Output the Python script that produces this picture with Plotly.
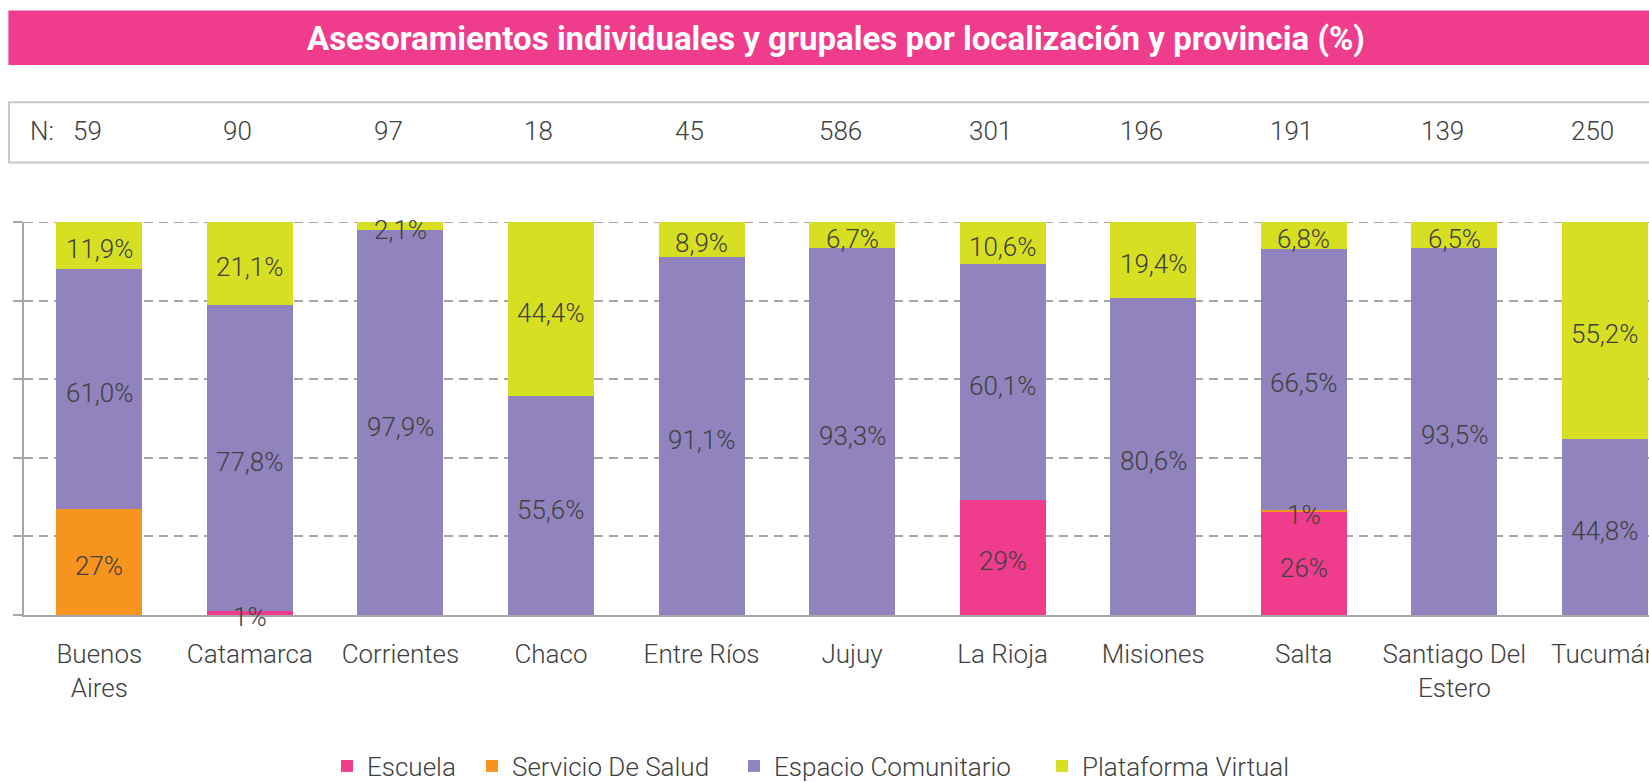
import plotly.graph_objects as go

# ---------------- data ----------------
provinces = ["Buenos Aires", "Catamarca", "Corrientes", "Chaco", "Entre Ríos", "Jujuy",
             "La Rioja", "Misiones", "Salta", "Santiago Del Estero", "Tucumán"]
tick_labels = ["Buenos<br>Aires", "Catamarca", "Corrientes", "Chaco", "Entre Ríos", "Jujuy",
               "La Rioja", "Misiones", "Salta", "Santiago Del<br>Estero", "Tucumán"]
n_values = [59, 90, 97, 18, 45, 586, 301, 196, 191, 139, 250]

escuela = [0, 1.1, 0, 0, 0, 0, 29.3, 0, 26.1, 0, 0]
servicio_salud = [27.1, 0, 0, 0, 0, 0, 0, 0, 0.6, 0, 0]
espacio_comunitario = [61.0, 77.8, 97.9, 55.6, 91.1, 93.3, 60.1, 80.6, 66.5, 93.5, 44.8]
plataforma_virtual = [11.9, 21.1, 2.1, 44.4, 8.9, 6.7, 10.6, 19.4, 6.8, 6.5, 55.2]

title_text = "Asesoramientos individuales y grupales por localización y provincia (%)"

# ---------------- style ----------------
FONT = "Roboto"
FW = 300
FS = 26
TXT = "#404040"
GRID = "#a6a6a6"
C_ESC = "#EF3C8D"
C_SAL = "#F7941E"
C_ESP = "#9184BE"
C_PLA = "#D7DF23"

FIG_W, FIG_H = 1649, 782
L, R, T, B = 24, 1649, 222, 615


def px_x(px):
    return (px - L) / (R - L)


def px_y(py):
    return (B - py) / (B - T)


def lbl_int(vals):
    return ["" if v == 0 else f"{int(v + 0.5)}%" for v in vals]


def lbl_dec(vals):
    return ["" if v == 0 else f"{v:.1f}%".replace(".", ",") for v in vals]


def tfont(size=FS, color=TXT):
    return dict(family=FONT, size=size, color=color, weight=FW)


series = [
    ("Escuela", escuela, C_ESC, lbl_int(escuela), 100),
    ("Servicio De Salud", servicio_salud, C_SAL, lbl_int(servicio_salud), 217),
    ("Espacio Comunitario", espacio_comunitario, C_ESP, lbl_dec(espacio_comunitario), 263),
    ("Plataforma Virtual", plataforma_virtual, C_PLA, lbl_dec(plataforma_virtual), None),
]

fig = go.Figure()
for name, vals, col, txt, lw in series:
    kw = {}
    if lw:
        kw["legendwidth"] = lw
    fig.add_trace(go.Bar(
        name=name, x=provinces, y=vals, marker=dict(color=col, line=dict(width=0)),
        hoverinfo="skip", **kw))

annotations = []

# data labels at the centre of each stacked segment, drawn above all bars
base = [0.0] * len(provinces)
for name, vals, col, txt, lw in series:
    for prov, b, v, t in zip(provinces, base, vals, txt):
        if t:
            annotations.append(dict(text=t, xref="x", yref="y", x=prov, y=b + v / 2,
                                    yshift=-4, xanchor="center", yanchor="middle",
                                    showarrow=False, font=tfont()))
    base = [b + v for b, v in zip(base, vals)]

shapes = [
    # title bar
    dict(type="rect", xref="paper", yref="paper", x0=px_x(8.4), x1=1.02,
         y0=px_y(65), y1=px_y(10.5), fillcolor=C_ESC, line=dict(width=0), layer="below"),
    # N box
    dict(type="rect", xref="paper", yref="paper", x0=px_x(9), x1=1.02,
         y0=px_y(162.5), y1=px_y(102.3), fillcolor="white",
         line=dict(color="#c8c8c8", width=2), layer="below"),
    # top (100 %) gridline
    dict(type="line", xref="paper", yref="y", x0=0, x1=1, y0=100, y1=100,
         line=dict(color=GRID, width=2, dash="9px,6px"), layer="below"),
]

annotations += [
    dict(text=title_text, xref="paper", yref="paper", x=px_x(836), y=px_y(38),
         xanchor="center", yanchor="middle", showarrow=False,
         font=dict(family=FONT, size=33, color="white", weight="bold")),
    dict(text="N:", xref="paper", yref="paper", x=px_x(28), y=px_y(131),
         xanchor="left", yanchor="middle", showarrow=False, font=tfont()),
]
for prov, n in zip(provinces, n_values):
    annotations.append(dict(text=str(n), xref="x", yref="paper", x=prov, y=px_y(131),
                            xshift=-12, xanchor="center", yanchor="middle", showarrow=False,
                            font=tfont()))

fig.update_layout(
    width=FIG_W, height=FIG_H,
    margin=dict(l=L, r=FIG_W - R, t=T, b=FIG_H - B, autoexpand=False),
    paper_bgcolor="white", plot_bgcolor="rgba(0,0,0,0)",
    barmode="stack", bargap=0.429,
    font=tfont(),
    showlegend=True,
    legend=dict(orientation="h", traceorder="normal", x=px_x(327), xanchor="left",
                y=px_y(766), yanchor="middle", font=tfont(),
                bgcolor="rgba(0,0,0,0)", itemclick=False),
    shapes=shapes, annotations=annotations,
    xaxis=dict(type="category", categoryorder="array", categoryarray=provinces,
               range=[-0.5, 10.293], tickvals=provinces, ticktext=tick_labels,
               tickangle=0, ticks="", showline=True, linecolor=GRID, linewidth=2,
               showgrid=False, zeroline=False, ticklabelstandoff=15,
               tickfont=tfont()),
    yaxis=dict(range=[0, 100], tickvals=[0, 20, 40, 60, 80, 100], showticklabels=False,
               showline=True, linecolor=GRID, linewidth=2, ticks="outside", ticklen=9,
               tickcolor=GRID, tickwidth=2, showgrid=True, gridcolor=GRID, gridwidth=2,
               griddash="9px,6px", zeroline=False),
)

fig.write_html("out.html", config={"displayModeBar": False},
               post_script="document.body.style.margin='0';document.body.style.overflow='hidden';")
